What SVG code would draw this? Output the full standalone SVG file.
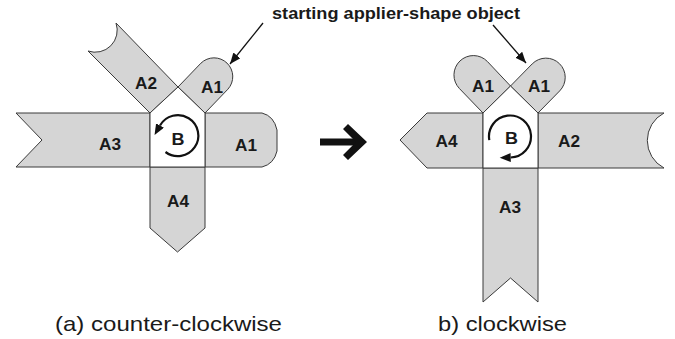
<svg xmlns="http://www.w3.org/2000/svg" width="675" height="339" viewBox="0 0 675 339">
<style>
.band{fill:#d5d5d5;stroke:#3a3a3a;stroke-width:1;stroke-linejoin:miter}
.core{fill:#ffffff;stroke:#3a3a3a;stroke-width:1}
.lbl{font-family:"Liberation Sans",Arial,sans-serif;font-weight:bold;font-size:16px;fill:#1a1a1a;text-anchor:middle}
.cap{font-family:"Liberation Sans",Arial,sans-serif;font-size:21px;fill:#1a1a1a}
.rot{fill:none;stroke:#111;stroke-width:2.2}
.ptr{fill:none;stroke:#111;stroke-width:1.3}
</style>
<defs>
<marker id="rhead" markerUnits="userSpaceOnUse" markerWidth="12" markerHeight="10" refX="0" refY="4.5" orient="auto"><path d="M0,0 L11,4.5 L0,9 Z" fill="#111"/></marker>
<marker id="phead" markerUnits="userSpaceOnUse" markerWidth="12" markerHeight="10" refX="11" refY="4.5" orient="auto"><path d="M0,0 L11,4.5 L0,9 Z" fill="#111"/></marker>
</defs>
<rect width="675" height="339" fill="#ffffff"/>

<!-- (a) counter-clockwise -->
<g id="a-A2"><path class="band" d="M150,113 L88,51 A22,22 0 0 0 116,23 L178,87 Z"/><text class="lbl" x="146" y="89" textLength="22" lengthAdjust="spacingAndGlyphs">A2</text></g>
<g id="a-A1top"><path class="band" d="M178,87 L200.9,63.2 A18.75,18.75 0 0 1 227.9,89.2 L205,113 Z"/><text class="lbl" x="212" y="92.5" textLength="22" lengthAdjust="spacingAndGlyphs">A1</text></g>
<g id="a-A3"><path class="band" d="M150,113 L16,113 L42,140 L16,167 L150,167 Z"/><text class="lbl" x="110" y="150" textLength="22" lengthAdjust="spacingAndGlyphs">A3</text></g>
<g id="a-A1right"><path class="band" d="M205,113 L262,113 Q274,116 277,130 L277,151 Q274,164 262,167 L205,167 Z"/><text class="lbl" x="246" y="150.5" textLength="22" lengthAdjust="spacingAndGlyphs">A1</text></g>
<g id="a-A4"><path class="band" d="M150,167 L150,228 L177.5,252 L205,228 L205,167 Z"/><text class="lbl" x="178" y="207" textLength="22" lengthAdjust="spacingAndGlyphs">A4</text></g>
<g id="a-B"><path class="core" d="M150,113 L178,87 L205,113 L205,167 L150,167 Z"/><text class="lbl" x="178" y="145" textLength="13" lengthAdjust="spacingAndGlyphs">B</text></g>

<!-- (b) clockwise -->
<g id="b-A1left"><path class="band" d="M483,113 L459.4,88.5 A19.4,19.4 0 0 1 487.4,61.5 L510.5,86 Z"/><text class="lbl" x="483" y="91.5" textLength="22" lengthAdjust="spacingAndGlyphs">A1</text></g>
<g id="b-A1right"><path class="band" d="M510.5,86 L532.2,63.9 A19.25,19.25 0 0 1 559.7,90.9 L538,113 Z"/><text class="lbl" x="539" y="91.5" textLength="22" lengthAdjust="spacingAndGlyphs">A1</text></g>
<g id="b-A4"><path class="band" d="M483,113 L427,113 L400,140 L427,168 L483,168 Z"/><text class="lbl" x="446.5" y="147" textLength="22" lengthAdjust="spacingAndGlyphs">A4</text></g>
<g id="b-A2"><path class="band" d="M538,113 L664,113 A31,31 0 0 0 664,168 L538,168 Z"/><text class="lbl" x="569" y="147" textLength="22" lengthAdjust="spacingAndGlyphs">A2</text></g>
<g id="b-A3"><path class="band" d="M483,168 L483,302 L510.5,278 L538,302 L538,168 Z"/><text class="lbl" x="510" y="213" textLength="22" lengthAdjust="spacingAndGlyphs">A3</text></g>
<g id="b-B"><path class="core" d="M483,113 L510.5,86 L538,113 L538,168 L483,168 Z"/><text class="lbl" x="511.5" y="143.5" textLength="13" lengthAdjust="spacingAndGlyphs">B</text></g>

<g id="connectors">
<path class="rot" d="M165.5,152 A20.5,20.5 0 1 0 160,125.5" marker-end="url(#rhead)"/>
<path class="rot" d="M489.3,140.1 A21,21 0 1 1 510.7,157.5" marker-end="url(#rhead)"/>
<line class="ptr" x1="263" y1="23" x2="230" y2="64" marker-end="url(#phead)"/>
<line class="ptr" x1="493" y1="25" x2="526" y2="63" marker-end="url(#phead)"/>
<g id="big-arrow" fill="#111">
<rect x="320" y="138.5" width="37" height="7"/>
<polygon points="343,129 348,124 367,142 348,160 343,155 356,142"/>
</g>
</g>

<g id="texts">
<text x="272" y="19" font-family="'Liberation Sans',Arial,sans-serif" font-weight="bold" font-size="16" fill="#1a1a1a" textLength="248" lengthAdjust="spacingAndGlyphs">starting applier-shape object</text>
<text class="cap" x="55" y="331" textLength="227" lengthAdjust="spacingAndGlyphs">(a) counter-clockwise</text>
<text class="cap" x="438" y="331" textLength="129" lengthAdjust="spacingAndGlyphs">b) clockwise</text>
</g>
</svg>
